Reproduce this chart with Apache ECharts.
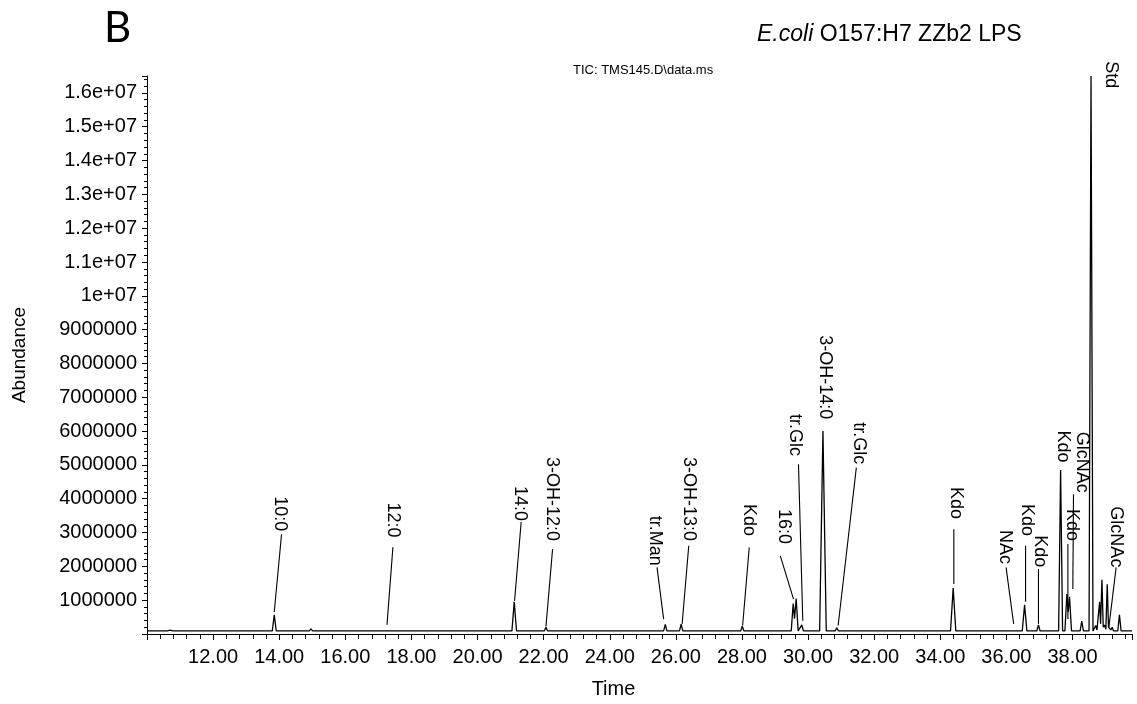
<!DOCTYPE html>
<html>
<head>
<meta charset="utf-8">
<script src="https://cdn.jsdelivr.net/npm/echarts@6/dist/echarts.min.js"></script>
<style>
html,body{margin:0;padding:0;background:#fff;}
#chart{width:1137px;height:704px;}
</style>
</head>
<body>
<div id="chart"></div>
<script>
// ---- chromatogram trace (retention time in min, abundance) ----
const traceTime = [
  10.00, 10.62, 10.70, 10.78, 13.79, 13.85, 13.91, 14.91, 14.96, 15.01,
  17.19, 17.24, 17.29, 21.04, 21.11, 21.18, 22.02, 22.07, 22.12, 25.63,
  25.68, 25.73, 26.11, 26.16, 26.21, 27.96, 28.01, 28.06, 29.49, 29.55,
  29.59, 29.64, 29.70, 29.76, 29.81, 29.86, 30.35, 30.45, 30.55, 30.82,
  30.87, 30.92, 31.26, 31.31, 31.36, 34.31, 34.39, 34.47, 34.58, 34.63,
  34.68, 35.25, 35.30, 35.35, 36.16, 36.21, 36.26, 36.48, 36.55, 36.62,
  36.92, 36.97, 37.02, 37.23, 37.28, 37.33, 37.58, 37.64, 37.70, 37.77,
  37.83, 37.87, 37.91, 37.97, 38.23, 38.28, 38.33, 38.50, 38.56, 38.62,
  38.66, 38.70, 38.74, 38.78, 38.82, 38.85, 38.89, 38.93, 38.97, 39.01,
  39.05, 39.09, 39.13, 39.16, 39.20, 39.24, 39.37, 39.42, 39.47, 39.80
];
const traceAbundance = [
  90000, 90000, 115000, 90000, 90000, 570000, 90000, 90000, 150000, 90000,
  90000, 125000, 90000, 90000, 950000, 90000, 90000, 200000, 90000, 90000,
  280000, 90000, 90000, 290000, 90000, 90000, 230000, 90000, 90000, 900000,
  450000, 1050000, 90000, 90000, 270000, 90000, 90000, 6000000, 90000, 90000,
  180000, 90000, 90000, 130000, 90000, 90000, 1360000, 90000, 90000, 130000,
  90000, 90000, 110000, 90000, 90000, 140000, 90000, 90000, 860000, 90000,
  90000, 270000, 90000, 90000, 120000, 90000, 90000, 4850000, 90000, 90000,
  1180000, 650000, 1100000, 90000, 90000, 380000, 90000, 90000, 16500000, 90000,
  110000, 250000, 120000, 150000, 950000, 300000, 1600000, 200000, 260000, 140000,
  1470000, 200000, 250000, 120000, 200000, 90000, 90000, 570000, 90000, 90000
];

// ---- peak annotations ----
const peakLabels = ['10:0','12:0','14:0','3-OH-12:0','tr.Man','3-OH-13:0','Kdo','16:0','tr.Glc','3-OH-14:0',
  'tr.Glc','Kdo','NAc','Kdo','Kdo','Kdo','GlcNAc','Kdo','Std','GlcNAc'];
// label anchor: text centre (time) and text lower end (abundance)
const labelTime  = [14.03, 17.45, 21.29, 22.25, 25.38, 26.39, 28.22, 29.26, 29.61, 30.52,
  31.53, 34.46, 35.97, 36.63, 37.03, 37.71, 38.29, 37.98, 39.15, 39.30];
const labelValue = [3040000, 2850000, 3340000, 2750000, 2020000, 2750000, 2900000, 2660000, 5260000, 6350000,
  5020000, 3400000, 2070000, 2900000, 1970000, 5070000, 4180000, 2750000, 16140000, 1970000];
// leader lines (null = no leader)
const leaderTopTime  = [14.07, 17.44, 21.32, 22.27, 25.43, 26.39, 28.22, 29.16, 29.71, null,
  31.46, 34.41, 35.99, 36.58, 36.97, null, 38.03, 37.86, null, 39.32];
const leaderTopValue = [2950000, 2570000, 3310000, 2510000, 1970000, 2610000, 2560000, 2310000, 5020000, null,
  4920000, 3100000, 1970000, 2610000, 1920000, null, 4130000, 2660000, null, 1970000];
const leaderBotTime  = [13.85, 17.26, 21.12, 22.07, 25.63, 26.19, 28.02, 29.56, 29.84, null,
  30.91, 34.41, 36.22, 36.58, 36.97, null, 38.01, 37.86, null, 39.10];
const leaderBotValue = [650000, 270000, 980000, 220000, 440000, 300000, 250000, 1030000, 390000, null,
  250000, 1480000, 300000, 950000, 300000, null, 1330000, 440000, null, 200000];

// ---- tick labels ----
const xTickLabels = ['12.00','14.00','16.00','18.00','20.00','22.00','24.00','26.00','28.00','30.00',
  '32.00','34.00','36.00','38.00'];
const xTickValues = [12,14,16,18,20,22,24,26,28,30,32,34,36,38];
const yTickLabels = ['1000000','2000000','3000000','4000000','5000000','6000000','7000000','8000000',
  '9000000','1e+07','1.1e+07','1.2e+07','1.3e+07','1.4e+07','1.5e+07','1.6e+07'];

const FONT = "'Liberation Sans', Arial, sans-serif";
const chart = echarts.init(document.getElementById('chart'), null, {renderer: 'canvas'});

const option = {
  animation: false,
  backgroundColor: '#fff',
  grid: {left: 147, right: 5, top: 76, bottom: 69, containLabel: false},
  graphic: [
    {type: 'text', x: 104, y: 28, style: {text: 'B', font: "42px Lato, 'Open Sans', sans-serif", fill: '#000', verticalAlign: 'middle'}},
    {type: 'text', x: 757, y: 35, style: {
      text: '{i|E.coli} O157:H7 ZZb2 LPS',
      font: '23px ' + FONT, fill: '#000', verticalAlign: 'middle',
      rich: {i: {fontStyle: 'italic', fontSize: 23, fontFamily: "'Liberation Sans', Arial, sans-serif", fill: '#000'}}
    }},
    {type: 'text', x: 573, y: 70, style: {text: 'TIC: TMS145.D\\data.ms', font: '13px ' + FONT, fill: '#000', verticalAlign: 'middle'}}
  ],
  xAxis: {
    type: 'value', min: 10, max: 39.8, interval: 2,
    name: 'Time', nameLocation: 'middle', nameGap: 45,
    nameTextStyle: {color: '#000', fontSize: 20, fontFamily: FONT, padding: [0, 52, 0, 0]},
    axisLine: {show: true, lineStyle: {color: '#000', width: 1}},
    axisTick: {show: true, length: 6, lineStyle: {color: '#000'}},
    minorTick: {show: true, splitNumber: 5, length: 5, lineStyle: {color: '#000'}},
    splitLine: {show: false}, minorSplitLine: {show: false},
    axisLabel: {
      color: '#000', fontSize: 20, fontFamily: FONT, margin: 13,
      formatter: function (v) {
        const k = xTickValues.findIndex(function (t) { return Math.abs(t - v) < 1e-6; });
        return k >= 0 ? xTickLabels[k] : '';
      }
    }
  },
  yAxis: {
    type: 'value', min: 0, max: 16500000, interval: 1000000,
    name: 'Abundance', nameLocation: 'middle', nameGap: 118,
    nameTextStyle: {color: '#000', fontSize: 19, fontFamily: FONT},
    axisLine: {show: true, lineStyle: {color: '#000', width: 1}},
    axisTick: {show: true, length: 5, lineStyle: {color: '#000'}},
    minorTick: {show: true, splitNumber: 5, length: 3, lineStyle: {color: '#000'}},
    splitLine: {show: false}, minorSplitLine: {show: false},
    axisLabel: {
      color: '#000', fontSize: 20, fontFamily: FONT, margin: 10,
      formatter: function (v) {
        const k = Math.round(v / 1000000);
        if (Math.abs(v - k * 1000000) > 1 || k < 1 || k > yTickLabels.length) return '';
        return yTickLabels[k - 1];
      }
    }
  },
  series: [
    {
      type: 'line', name: 'TIC',
      data: traceTime.map(function (t, i) { return [t, traceAbundance[i]]; }),
      showSymbol: false, symbol: 'none', sampling: null,
      lineStyle: {color: '#000', width: 1.3},
      clip: true, z: 2
    },
    {
      type: 'custom', name: 'labels', clip: false, silent: true, z: 3,
      data: labelTime.map(function (t, i) { return [t, labelValue[i]]; }),
      encode: {x: 0, y: 1},
      renderItem: function (params, api) {
        const i = params.dataIndex;
        const p = api.coord([labelTime[i], labelValue[i]]);
        const children = [{
          type: 'text', x: p[0], y: p[1], rotation: -Math.PI / 2,
          style: {text: peakLabels[i], font: '18px ' + FONT, fill: '#000', align: 'right', verticalAlign: 'middle'}
        }];
        if (leaderTopTime[i] !== null) {
          const a = api.coord([leaderTopTime[i], leaderTopValue[i]]);
          const b = api.coord([leaderBotTime[i], leaderBotValue[i]]);
          children.push({type: 'line', shape: {x1: a[0], y1: a[1], x2: b[0], y2: b[1]}, style: {stroke: '#000', lineWidth: 1.1}});
        }
        return {type: 'group', children: children};
      }
    }
  ]
};
chart.setOption(option);
</script>
</body>
</html>
